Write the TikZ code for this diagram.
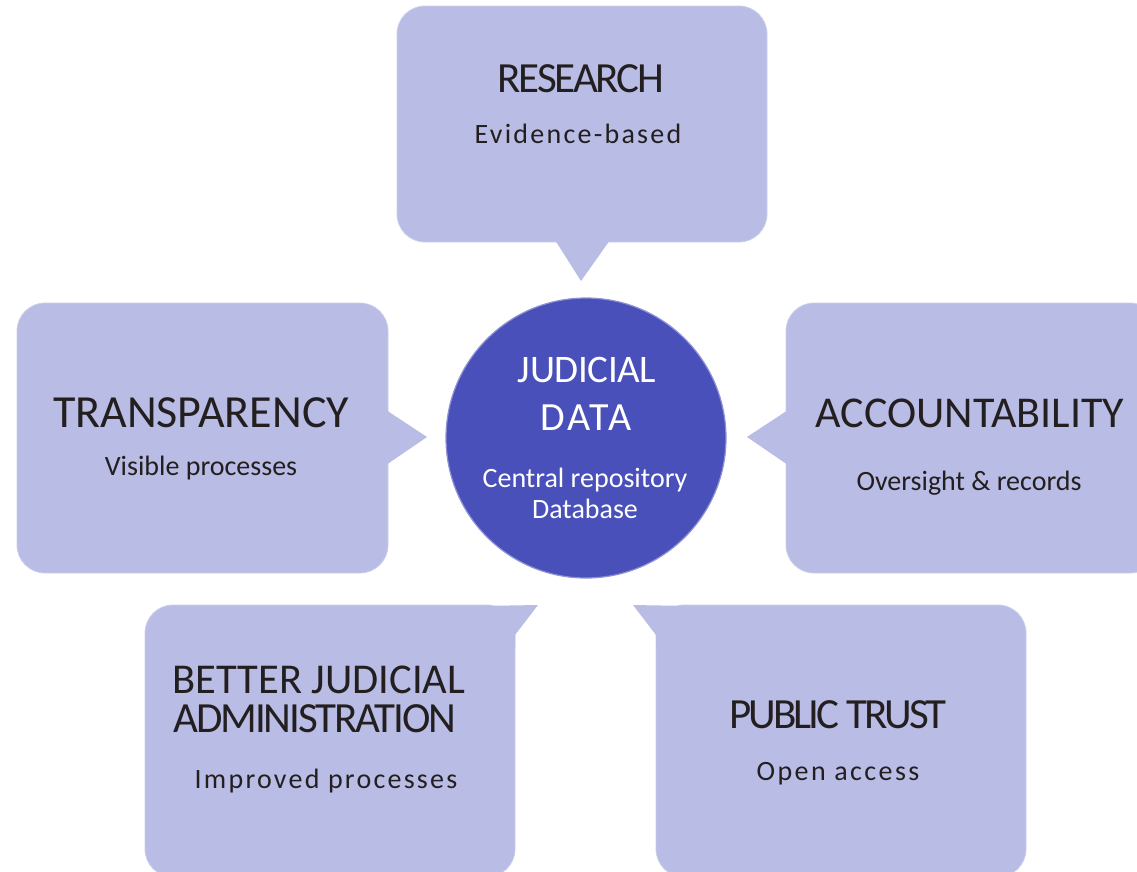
\documentclass[tikz,border=0pt]{standalone}
\usepackage{fontspec}
\setmainfont{Carlito}
\definecolor{boxfill}{HTML}{B9BCE4}
\definecolor{boxedge}{HTML}{CCCEEC}
\definecolor{hubfill}{HTML}{4A50B9}
\definecolor{hubedge}{HTML}{8E92D4}
\definecolor{ink}{HTML}{231F20}
\tikzset{
  callout/.style={rectangle, rounded corners=28pt, fill=boxfill, draw=boxedge, line width=0.8pt, inner sep=0pt},
  tip/.style={fill=boxfill},
  title/.style={anchor=base, text=ink, inner sep=0pt, font=\fontsize{43}{46}\selectfont},
  sub/.style={anchor=base, text=ink, inner sep=0pt, font=\fontsize{28}{30}\selectfont},
  hubtitle/.style={anchor=base, text=white, inner sep=0pt, font=\fontsize{39}{42}\selectfont},
  hubsub/.style={anchor=base, text=white, inner sep=0pt, font=\fontsize{28}{30}\selectfont},
}
\newcommand{\tight}[1]{\addfontfeature{LetterSpace=#1}}
\begin{document}
\begin{tikzpicture}[x=1pt,y=-1pt]
\useasboundingbox (0,0) rectangle (1137,871);
\clip (0,0) rectangle (1137,871);

% callout bodies
\node[callout, minimum width=370pt, minimum height=236pt] (res) at (582,124) {};
\node[callout, minimum width=371pt, minimum height=270pt] (tra) at (202.5,438) {};
\node[callout, minimum width=372pt, minimum height=270pt] (acc) at (972,438) {};
\node[callout, minimum width=370pt, minimum height=272pt] (bet) at (330,741) {};
\node[callout, minimum width=370pt, minimum height=272pt] (pub) at (841,741) {};

% central hub
\node[circle, fill=hubfill, draw=hubedge, line width=1.2pt, minimum size=280pt, inner sep=0pt] (hub) at (586,438) {};

% pointers towards the hub
\fill[tip] (555,240) -- (610,240) -- (581,281) -- cycle;
\fill[tip] (386,410) -- (386,465) -- (427,437) -- cycle;
\fill[tip] (788,410) -- (788,465) -- (747,437) -- cycle;
\fill[tip] (480,606) -- (538,605) -- (515,635) -- (515,648) -- (500,648) -- cycle;
\fill[tip] (690,606) -- (633,605) -- (656,635) -- (656,648) -- (670,648) -- cycle;

% texts
\node[title] (resT) at (581,92) {\tight{-5}RESEARCH};
\node[sub]   (resS) at (578,143) {\tight{8}Evidence-based};

\node[title, font=\fontsize{46}{48}\selectfont] (traT) at (201,427) {TRANSPARENCY};
\node[sub]   (traS) at (201,475) {Visible processes};

\node[hubtitle] (hubA) at (587,382) {\tight{-1}JUDICIAL};
\node[hubtitle, font=\fontsize{40}{42}\selectfont] (hubB) at (586,430) {\tight{6}DATA};
\node[hubsub]   (hubC) at (585,487) {Central repository};
\node[hubsub]   (hubD) at (585,518) {Database};

\node[title, font=\fontsize{44}{46}\selectfont] (accT) at (970,427) {ACCOUNTABILITY};
\node[sub]   (accS) at (969,490) {Oversight \& records};

\node[title, font=\fontsize{42.5}{46}\selectfont] (betA) at (319,693) {BETTER JUDICIAL};
\node[title] (betB) at (315,732) {\tight{-5}ADMINISTRATION};
\node[sub]   (betS) at (326,788) {\tight{8}Improved processes};

\node[title] (pubT) at (838,728) {\tight{-7}PUBLIC TRUST};
\node[sub]   (pubS) at (838,780) {\tight{8.5}Open access};
\end{tikzpicture}
\end{document}
